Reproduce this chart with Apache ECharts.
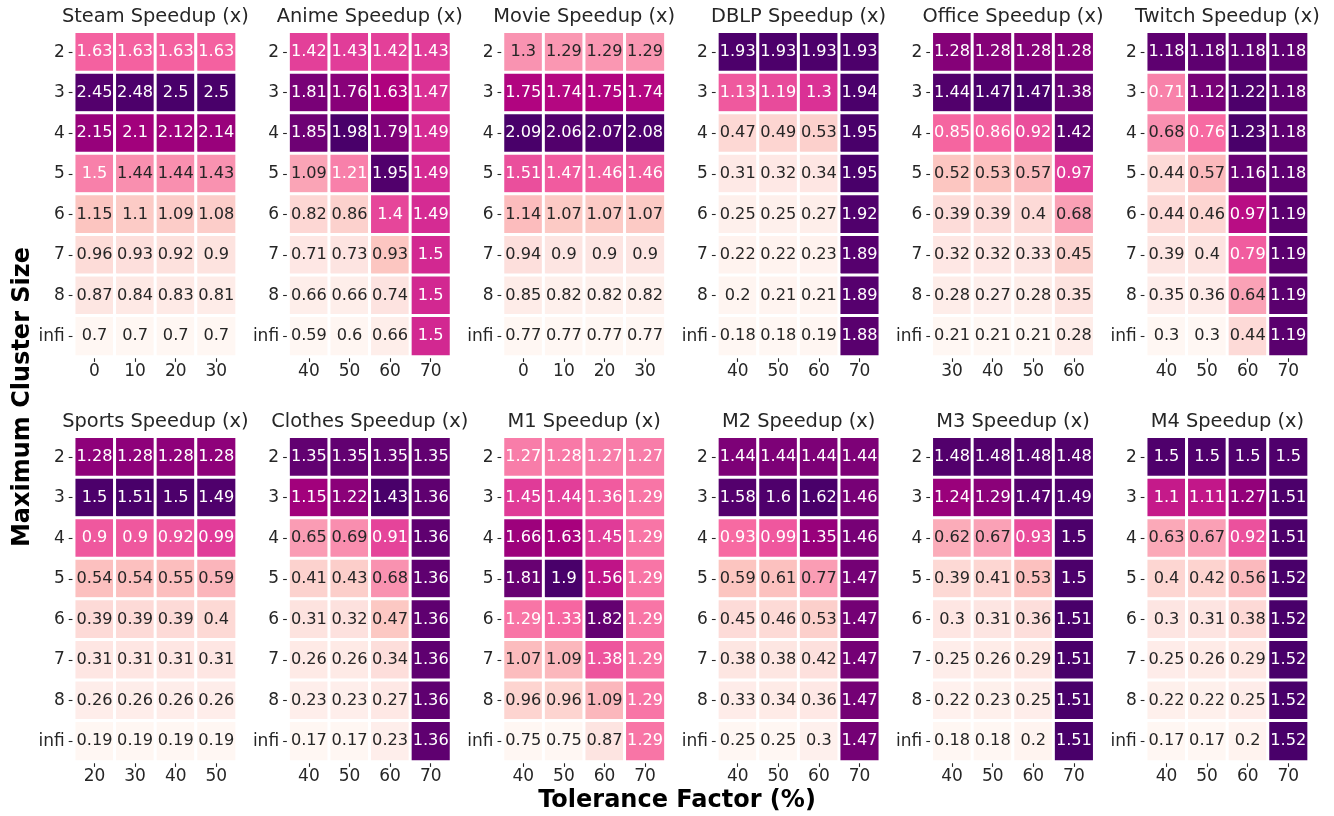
<!DOCTYPE html>
<html>
<head>
<meta charset="utf-8">
<title>Speedup heatmaps</title>
<script src="https://cdn.jsdelivr.net/npm/echarts@6/dist/echarts.min.js"></script>
<style>
  html, body { margin: 0; padding: 0; background: #ffffff; }
  #chart { width: 1334px; height: 816px; }
</style>
</head>
<body>
<div id="chart"></div>
<script>
// Maximum cluster size (rows, top to bottom)
const clusterSizes = ['2', '3', '4', '5', '6', '7', '8', 'infi'];

// Tolerance factor (%) columns for each dataset
const steamTol   = ['0', '10', '20', '30'];
const animeTol   = ['40', '50', '60', '70'];
const movieTol   = ['0', '10', '20', '30'];
const dblpTol    = ['40', '50', '60', '70'];
const officeTol  = ['30', '40', '50', '60'];
const twitchTol  = ['40', '50', '60', '70'];
const sportsTol  = ['20', '30', '40', '50'];
const clothesTol = ['40', '50', '60', '70'];
const m1Tol      = ['40', '50', '60', '70'];
const m2Tol      = ['40', '50', '60', '70'];
const m3Tol      = ['40', '50', '60', '70'];
const m4Tol      = ['40', '50', '60', '70'];

// Speedup values, one row per cluster size, one column per tolerance
const steamSpeedup = [
  [1.63, 1.63, 1.63, 1.63],
  [2.45, 2.48, 2.5, 2.5],
  [2.15, 2.1, 2.12, 2.14],
  [1.5, 1.44, 1.44, 1.43],
  [1.15, 1.1, 1.09, 1.08],
  [0.96, 0.93, 0.92, 0.9],
  [0.87, 0.84, 0.83, 0.81],
  [0.7, 0.7, 0.7, 0.7]
];
const animeSpeedup = [
  [1.42, 1.43, 1.42, 1.43],
  [1.81, 1.76, 1.63, 1.47],
  [1.85, 1.98, 1.79, 1.49],
  [1.09, 1.21, 1.95, 1.49],
  [0.82, 0.86, 1.4, 1.49],
  [0.71, 0.73, 0.93, 1.5],
  [0.66, 0.66, 0.74, 1.5],
  [0.59, 0.6, 0.66, 1.5]
];
const movieSpeedup = [
  [1.3, 1.29, 1.29, 1.29],
  [1.75, 1.74, 1.75, 1.74],
  [2.09, 2.06, 2.07, 2.08],
  [1.51, 1.47, 1.46, 1.46],
  [1.14, 1.07, 1.07, 1.07],
  [0.94, 0.9, 0.9, 0.9],
  [0.85, 0.82, 0.82, 0.82],
  [0.77, 0.77, 0.77, 0.77]
];
const dblpSpeedup = [
  [1.93, 1.93, 1.93, 1.93],
  [1.13, 1.19, 1.3, 1.94],
  [0.47, 0.49, 0.53, 1.95],
  [0.31, 0.32, 0.34, 1.95],
  [0.25, 0.25, 0.27, 1.92],
  [0.22, 0.22, 0.23, 1.89],
  [0.2, 0.21, 0.21, 1.89],
  [0.18, 0.18, 0.19, 1.88]
];
const officeSpeedup = [
  [1.28, 1.28, 1.28, 1.28],
  [1.44, 1.47, 1.47, 1.38],
  [0.85, 0.86, 0.92, 1.42],
  [0.52, 0.53, 0.57, 0.97],
  [0.39, 0.39, 0.4, 0.68],
  [0.32, 0.32, 0.33, 0.45],
  [0.28, 0.27, 0.28, 0.35],
  [0.21, 0.21, 0.21, 0.28]
];
const twitchSpeedup = [
  [1.18, 1.18, 1.18, 1.18],
  [0.71, 1.12, 1.22, 1.18],
  [0.68, 0.76, 1.23, 1.18],
  [0.44, 0.57, 1.16, 1.18],
  [0.44, 0.46, 0.97, 1.19],
  [0.39, 0.4, 0.79, 1.19],
  [0.35, 0.36, 0.64, 1.19],
  [0.3, 0.3, 0.44, 1.19]
];
const sportsSpeedup = [
  [1.28, 1.28, 1.28, 1.28],
  [1.5, 1.51, 1.5, 1.49],
  [0.9, 0.9, 0.92, 0.99],
  [0.54, 0.54, 0.55, 0.59],
  [0.39, 0.39, 0.39, 0.4],
  [0.31, 0.31, 0.31, 0.31],
  [0.26, 0.26, 0.26, 0.26],
  [0.19, 0.19, 0.19, 0.19]
];
const clothesSpeedup = [
  [1.35, 1.35, 1.35, 1.35],
  [1.15, 1.22, 1.43, 1.36],
  [0.65, 0.69, 0.91, 1.36],
  [0.41, 0.43, 0.68, 1.36],
  [0.31, 0.32, 0.47, 1.36],
  [0.26, 0.26, 0.34, 1.36],
  [0.23, 0.23, 0.27, 1.36],
  [0.17, 0.17, 0.23, 1.36]
];
const m1Speedup = [
  [1.27, 1.28, 1.27, 1.27],
  [1.45, 1.44, 1.36, 1.29],
  [1.66, 1.63, 1.45, 1.29],
  [1.81, 1.9, 1.56, 1.29],
  [1.29, 1.33, 1.82, 1.29],
  [1.07, 1.09, 1.38, 1.29],
  [0.96, 0.96, 1.09, 1.29],
  [0.75, 0.75, 0.87, 1.29]
];
const m2Speedup = [
  [1.44, 1.44, 1.44, 1.44],
  [1.58, 1.6, 1.62, 1.46],
  [0.93, 0.99, 1.35, 1.46],
  [0.59, 0.61, 0.77, 1.47],
  [0.45, 0.46, 0.53, 1.47],
  [0.38, 0.38, 0.42, 1.47],
  [0.33, 0.34, 0.36, 1.47],
  [0.25, 0.25, 0.3, 1.47]
];
const m3Speedup = [
  [1.48, 1.48, 1.48, 1.48],
  [1.24, 1.29, 1.47, 1.49],
  [0.62, 0.67, 0.93, 1.5],
  [0.39, 0.41, 0.53, 1.5],
  [0.3, 0.31, 0.36, 1.51],
  [0.25, 0.26, 0.29, 1.51],
  [0.22, 0.23, 0.25, 1.51],
  [0.18, 0.18, 0.2, 1.51]
];
const m4Speedup = [
  [1.5, 1.5, 1.5, 1.5],
  [1.1, 1.11, 1.27, 1.51],
  [0.63, 0.67, 0.92, 1.51],
  [0.4, 0.42, 0.56, 1.52],
  [0.3, 0.31, 0.38, 1.52],
  [0.25, 0.26, 0.29, 1.52],
  [0.22, 0.22, 0.25, 1.52],
  [0.17, 0.17, 0.2, 1.52]
];

const panelTitles = [
  'Steam Speedup (x)', 'Anime Speedup (x)', 'Movie Speedup (x)',
  'DBLP Speedup (x)', 'Office Speedup (x)', 'Twitch Speedup (x)',
  'Sports Speedup (x)', 'Clothes Speedup (x)', 'M1 Speedup (x)',
  'M2 Speedup (x)', 'M3 Speedup (x)', 'M4 Speedup (x)'
];
const panelTols = [steamTol, animeTol, movieTol, dblpTol, officeTol, twitchTol,
                   sportsTol, clothesTol, m1Tol, m2Tol, m3Tol, m4Tol];
const panelValues = [steamSpeedup, animeSpeedup, movieSpeedup, dblpSpeedup, officeSpeedup, twitchSpeedup,
                     sportsSpeedup, clothesSpeedup, m1Speedup, m2Speedup, m3Speedup, m4Speedup];

// RdPu sequential palette
const rdPu = ['#fff7f3', '#fde0dd', '#fcc5c0', '#fa9fb5', '#f768a1',
              '#dd3497', '#ae017e', '#7a0177', '#49006a'];

const FONT = 'DejaVu Sans';
const TEXT = '#262626';

// Layout
const GRID_LEFT0 = 74.2;
const GRID_PITCH = 214.4;
const GRID_W = 162.4;
const GRID_H = 324.6;
const ROW_TOPS = [31.8, 436.8];

function hexToRgb(h) {
  return [parseInt(h.slice(1, 3), 16), parseInt(h.slice(3, 5), 16), parseInt(h.slice(5, 7), 16)];
}
function paletteAt(t) {
  t = Math.max(0, Math.min(1, t));
  const pos = t * (rdPu.length - 1);
  const i = Math.min(Math.floor(pos), rdPu.length - 2);
  const f = pos - i;
  const a = hexToRgb(rdPu[i]), b = hexToRgb(rdPu[i + 1]);
  return a.map((c, k) => c + (b[k] - c) * f);
}
function luminance(rgb) {
  const lin = rgb.map(c => {
    c = c / 255;
    return c <= 0.03928 ? c / 12.92 : Math.pow((c + 0.055) / 1.055, 2.4);
  });
  return 0.2126 * lin[0] + 0.7152 * lin[1] + 0.0722 * lin[2];
}

const grids = [], xAxes = [], yAxes = [], series = [], visualMaps = [], graphics = [];

panelValues.forEach((vals, i) => {
  const col = i % 6, row = Math.floor(i / 6);
  const left = GRID_LEFT0 + col * GRID_PITCH;
  const top = ROW_TOPS[row];
  const flat = vals.flat();
  const vmin = Math.min(...flat), vmax = Math.max(...flat);

  grids.push({ left: left, top: top, width: GRID_W, height: GRID_H });

  xAxes.push({
    type: 'category', gridIndex: i, data: panelTols[i], position: 'bottom',
    axisLine: { show: false },
    axisTick: { show: true, alignWithLabel: true, length: 5.5, lineStyle: { color: TEXT, width: 1.1 } },
    axisLabel: { fontFamily: FONT, fontSize: 17, color: TEXT, margin: 7 },
    splitLine: { show: false }
  });
  yAxes.push({
    type: 'category', gridIndex: i, data: clusterSizes, inverse: true,
    axisLine: { show: false },
    axisTick: { show: true, alignWithLabel: true, length: 5.5, lineStyle: { color: TEXT, width: 1.1 } },
    axisLabel: { fontFamily: FONT, fontSize: 17, color: TEXT, margin: 9.5 },
    splitLine: { show: false }
  });

  const data = [];
  vals.forEach((r, yi) => r.forEach((v, xi) => {
    const rgb = paletteAt((v - vmin) / (vmax - vmin));
    data.push({
      value: [xi, yi, v],
      label: { color: luminance(rgb) > 0.408 ? TEXT : '#ffffff' }
    });
  }));

  series.push({
    type: 'heatmap', xAxisIndex: i, yAxisIndex: i, data: data,
    itemStyle: { borderColor: '#ffffff', borderWidth: 3 },
    label: {
      show: true, fontFamily: FONT, fontSize: 16.2,
      formatter: p => String(p.value[2])
    },
    emphasis: { disabled: true },
    animation: false
  });

  visualMaps.push({
    type: 'continuous', show: false, seriesIndex: i, dimension: 2,
    min: vmin, max: vmax, inRange: { color: rdPu }
  });

  graphics.push({
    type: 'text', x: left + GRID_W / 2, y: top - 15,
    style: {
      text: panelTitles[i], fill: TEXT, align: 'center', verticalAlign: 'middle',
      font: '19.4px "' + FONT + '"'
    }
  });
});

graphics.push({
  type: 'text', x: 677, y: 801,
  style: {
    text: 'Tolerance Factor (%)', fill: '#000000', align: 'center', verticalAlign: 'middle',
    font: 'bold 24px "' + FONT + '"'
  }
});
graphics.push({
  type: 'text', x: 23, y: 397, rotation: Math.PI / 2,
  style: {
    text: 'Maximum Cluster Size', fill: '#000000', align: 'center', verticalAlign: 'middle',
    font: 'bold 24px "' + FONT + '"'
  }
});

const chart = echarts.init(document.getElementById('chart'), null, { renderer: 'canvas' });
chart.setOption({
  backgroundColor: '#ffffff',
  animation: false,
  tooltip: { show: false },
  grid: grids,
  xAxis: xAxes,
  yAxis: yAxes,
  visualMap: visualMaps,
  series: series,
  graphic: graphics
});
</script>
</body>
</html>
